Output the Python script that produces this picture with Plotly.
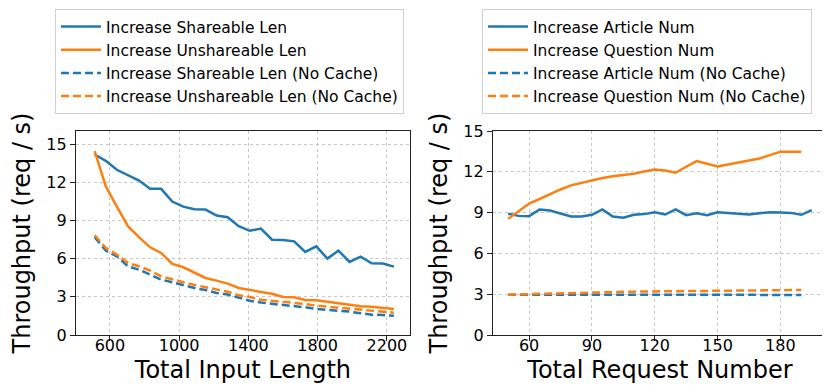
import plotly.graph_objects as go

# ---- left panel: throughput vs total input length ----
input_len = [512, 576, 640, 704, 768, 832, 896, 960, 1024, 1088, 1152, 1216, 1280, 1344,
             1408, 1472, 1536, 1600, 1664, 1728, 1792, 1856, 1920, 1984, 2048, 2112, 2176, 2240]
shareable = [14.2, 13.7, 13.0, 12.55, 12.15, 11.5, 11.5, 10.5, 10.1, 9.9, 9.87, 9.4, 9.27, 8.56,
             8.2, 8.37, 7.5, 7.48, 7.37, 6.54, 6.98, 6.01, 6.64, 5.75, 6.17, 5.64, 5.62, 5.38]
unshareable = [14.46, 11.7, 10.1, 8.56, 7.7, 6.9, 6.46, 5.59, 5.33, 4.93, 4.49, 4.28, 4.04, 3.7,
               3.57, 3.39, 3.25, 2.99, 2.97, 2.76, 2.73, 2.6, 2.5, 2.39, 2.26, 2.23, 2.15, 2.05]
shareable_nc = [7.7, 6.64, 6.19, 5.41, 5.14, 4.75, 4.36, 4.15, 3.91, 3.7, 3.54, 3.31, 3.18, 2.91,
                2.7, 2.55, 2.47, 2.36, 2.28, 2.18, 2.05, 2.0, 1.92, 1.84, 1.71, 1.6, 1.57, 1.52]
unshareable_nc = [7.85, 6.85, 6.33, 5.67, 5.41, 5.07, 4.62, 4.36, 4.15, 3.94, 3.75, 3.57, 3.41, 3.12,
                  2.99, 2.78, 2.7, 2.6, 2.52, 2.44, 2.31, 2.23, 2.13, 2.07, 2.0, 1.89, 1.84, 1.76]

# ---- right panel: throughput vs total request number ----
req_article = [50, 55, 60, 65, 70, 75, 80, 85, 90, 95, 100, 105, 110, 115, 120,
               125, 130, 135, 140, 145, 150, 155, 160, 165, 170, 175, 180, 185, 190, 195]
article = [8.91, 8.76, 8.74, 9.23, 9.16, 8.96, 8.71, 8.71, 8.84, 9.23, 8.71, 8.62, 8.84, 8.89, 9.03,
           8.86, 9.23, 8.81, 8.96, 8.81, 9.03, 8.98, 8.93, 8.86, 8.96, 9.03, 9.0, 8.98, 8.84, 9.18]
req_other = [50, 55, 60, 65, 70, 75, 80, 85, 90, 95, 100, 105, 110, 115, 120,
             125, 130, 135, 140, 145, 150, 155, 160, 165, 170, 175, 180, 185, 190]
question = [8.54, 9.1, 9.67, 10.0, 10.38, 10.7, 11.0, 11.19, 11.39, 11.54, 11.68, 11.76, 11.86, 12.03,
            12.17, 12.1, 11.93, 12.37, 12.79, 12.59, 12.4, 12.54, 12.69, 12.84, 12.98, 13.23, 13.48,
            13.48, 13.48]
article_nc = [2.96, 2.96, 2.96, 2.96, 2.96, 2.96, 2.96, 2.96, 2.96, 2.96, 2.96, 2.95, 2.95, 2.95,
              2.95, 2.95, 2.95, 2.95, 2.95, 2.95, 2.95, 2.95, 2.95, 2.95, 2.95, 2.95, 2.95, 2.95, 2.95]
question_nc = [2.97, 2.99, 3.02, 3.05, 3.07, 3.09, 3.11, 3.13, 3.14, 3.16, 3.17, 3.18, 3.19, 3.2,
               3.21, 3.22, 3.23, 3.24, 3.24, 3.25, 3.26, 3.27, 3.27, 3.28, 3.29, 3.29, 3.3, 3.3, 3.31]

BLUE = "#1f77b4"
ORANGE = "#ff7f0e"
DASH = "8px,4px"

fig = go.Figure()

left_series = [
    ("Increase Shareable Len", input_len, shareable, BLUE, "solid"),
    ("Increase Unshareable Len", input_len, unshareable, ORANGE, "solid"),
    ("Increase Shareable Len (No Cache)", input_len, shareable_nc, BLUE, DASH),
    ("Increase Unshareable Len (No Cache)", input_len, unshareable_nc, ORANGE, DASH),
]
right_series = [
    ("Increase Article Num", req_article, article, BLUE, "solid"),
    ("Increase Question Num", req_other, question, ORANGE, "solid"),
    ("Increase Article Num (No Cache)", req_other, article_nc, BLUE, DASH),
    ("Increase Question Num (No Cache)", req_other, question_nc, ORANGE, DASH),
]

for name, xs, ys, col, dash in left_series:
    fig.add_trace(go.Scatter(x=xs, y=ys, mode="lines", name=name,
                             line=dict(color=col, width=2.5, dash=dash),
                             xaxis="x", yaxis="y", legend="legend"))
for name, xs, ys, col, dash in right_series:
    fig.add_trace(go.Scatter(x=xs, y=ys, mode="lines", name=name,
                             line=dict(color=col, width=2.5, dash=dash),
                             xaxis="x2", yaxis="y2", legend="legend2"))

axis_common = dict(
    showline=True, linecolor="#222", linewidth=1.2, mirror=True,
    ticks="outside", ticklen=5, tickwidth=1, tickcolor="#222",
    showgrid=True, gridcolor="#c8c8c8", griddash="dot", gridwidth=1,
    zeroline=False, tickfont=dict(size=16, color="black"),
    automargin=False,
)
title_font = dict(size=24)

legend_common = dict(
    font=dict(size=15.5, color="black"), bgcolor="white",
    bordercolor="#d0d0d0", borderwidth=1,
    xanchor="left", yanchor="top", itemwidth=40,
)

fig.update_layout(
    width=830, height=390,
    margin=dict(l=0, r=0, t=0, b=0),
    paper_bgcolor="white", plot_bgcolor="white",
    font=dict(family="DejaVu Sans", color="black"),
    xaxis=dict(domain=[0.0819, 0.4843], range=[404, 2333],
               tickvals=[600, 1000, 1400, 1800, 2200], anchor="y", ticklabelstandoff=-9,
               title=dict(text="Total Input Length", font=title_font, standoff=6),
               **axis_common),
    yaxis=dict(domain=[0.1615, 0.6846], range=[0, 16.05],
               tickvals=[0, 3, 6, 9, 12, 15], anchor="x",
               title=dict(text="Throughput (req / s)", font=title_font, standoff=8),
               **axis_common),
    xaxis2=dict(domain=[0.5843, 0.9867], range=[42.75, 202.25],
                tickvals=[60, 90, 120, 150, 180], anchor="y2", ticklabelstandoff=-9,
                title=dict(text="Total Request Number", font=title_font, standoff=6),
                **axis_common),
    yaxis2=dict(domain=[0.1615, 0.6846], range=[0, 15],
                tickvals=[0, 3, 6, 9, 12, 15], anchor="x2",
                title=dict(text="Throughput (req / s)", font=title_font, standoff=8),
                **axis_common),
    legend=dict(x=47 / 830, y=1 - 1 / 390, **legend_common),
    legend2=dict(x=474 / 830, y=1 - 1 / 390, **legend_common),
    showlegend=True,
)

fig.write_html("out.html")
